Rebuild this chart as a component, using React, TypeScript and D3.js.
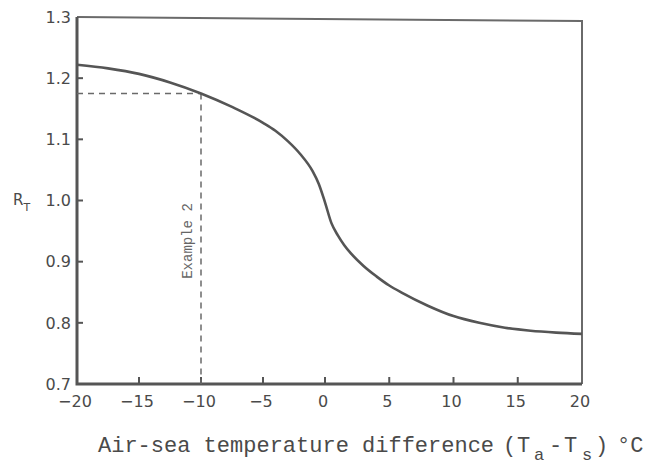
import React from "react";
import * as d3 from "d3";

const tempDiff = [-20, -17.5, -15, -12.5, -10, -7.5, -5, -4, -3, -2, -1, -0.5, 0, 0.5, 1, 1.5, 2, 3, 4, 5, 6, 8, 10, 12, 14, 16, 18, 20];
const rT = [1.222, 1.216, 1.207, 1.193, 1.175, 1.153, 1.127, 1.114, 1.097, 1.076, 1.048, 1.027, 0.997, 0.963, 0.943, 0.927, 0.914, 0.893, 0.876, 0.861, 0.849, 0.828, 0.811, 0.8, 0.792, 0.787, 0.784, 0.782];
const xTicks = [-20, -15, -10, -5, 0, 5, 10, 15, 20];
const yTicks = [0.7, 0.8, 0.9, 1.0, 1.1, 1.2, 1.3];
const exampleX = -10;
const exampleY = 1.175;

const W = 651;
const H = 467;

export default function App() {
  const x = d3.scaleLinear().domain([-20, 0, 20]).range([77, 325, 582]);
  const y = d3.scaleLinear().domain([0.7, 1.3]).range([384, 17]);
  const line = d3
    .line<number>()
    .x((_, i) => x(tempDiff[i]))
    .y((d) => y(d))
    .curve(d3.curveMonotoneX);

  const stroke = "#555";
  const textCol = "#4a4a4a";
  const x0 = x(-20);
  const x1 = x(20);
  const yb = y(0.7);
  const yt = y(1.3);

  const yLabel = (v: number) => v.toFixed(1);

  return (
    <svg width={W} height={H} style={{ position: "absolute", left: 0, top: 0, background: "#fff" }}>
      {/* frame */}
      <path
        d={`M${x0},${yt} L${x1},${yt + 4} L${x1},${yb}`}
        fill="none"
        stroke="#6a6a6a"
        strokeWidth={2}
      />
      <path d={`M${x0},${yt} L${x0},${yb} L${x1},${yb}`} fill="none" stroke={stroke} strokeWidth={3} />

      {/* y ticks */}
      {yTicks.map((t) => (
        <g key={"y" + t}>
          {t > 0.7 && t < 1.3 && <line x1={x0} x2={x0 + 6} y1={y(t)} y2={y(t)} stroke={stroke} strokeWidth={2} />}
          <text
            x={71}
            y={y(t)}
            dy="0.36em"
            textAnchor="end"
            fontFamily="DejaVu Sans, sans-serif"
            fontSize={16}
            fill={textCol}
          >
            {yLabel(t)}
          </text>
        </g>
      ))}

      {/* x ticks */}
      {xTicks.map((t) => (
        <g key={"x" + t}>
          {t > -20 && t < 20 && <line x1={x(t)} x2={x(t)} y1={yb} y2={yb - 7} stroke={stroke} strokeWidth={2} />}
          <text
            x={x(t) - 2}
            y={407}
            textAnchor="middle"
            fontFamily="DejaVu Sans, sans-serif"
            fontSize={16}
            fill={textCol}
          >
            {t < 0 ? "\u2212" + Math.abs(t) : String(t)}
          </text>
        </g>
      ))}

      {/* dashed guide lines */}
      <line
        x1={x0}
        x2={x(exampleX)}
        y1={y(exampleY)}
        y2={y(exampleY)}
        stroke="#6a6a6a"
        strokeWidth={1.5}
        strokeDasharray="6,5"
      />
      <line
        x1={x(exampleX)}
        x2={x(exampleX)}
        y1={y(exampleY)}
        y2={yb}
        stroke="#6a6a6a"
        strokeWidth={1.5}
        strokeDasharray="6,5"
      />
      <text
        transform={`translate(${x(exampleX) - 9},${241}) rotate(-90)`}
        textAnchor="middle"
        fontFamily="Liberation Mono, monospace"
        fontSize={14}
        fill="#666"
      >
        Example 2
      </text>

      {/* curve */}
      <path d={line(rT) || ""} fill="none" stroke={stroke} strokeWidth={2.6} />

      {/* y label */}
      <text x={13} y={205} fontFamily="DejaVu Sans, sans-serif" fontSize={15} fill={textCol}>
        R
        <tspan dy={6} fontSize={11}>
          T
        </tspan>
      </text>

      {/* x label */}
      <text y={452} fontFamily="Liberation Mono, monospace" fontSize={22} fill={textCol}>
        <tspan x={98}>Air-sea temperature difference</tspan>
        <tspan x={503}>(</tspan>
        <tspan x={517}>T</tspan>
        <tspan x={534} dy={8} fontSize={17}>a</tspan>
        <tspan x={549} dy={-8}>-</tspan>
        <tspan x={564}>T</tspan>
        <tspan x={582} dy={8} fontSize={17}>s</tspan>
        <tspan x={595} dy={-8}>)</tspan>
        <tspan x={617}>°C</tspan>
      </text>
    </svg>
  );
}
